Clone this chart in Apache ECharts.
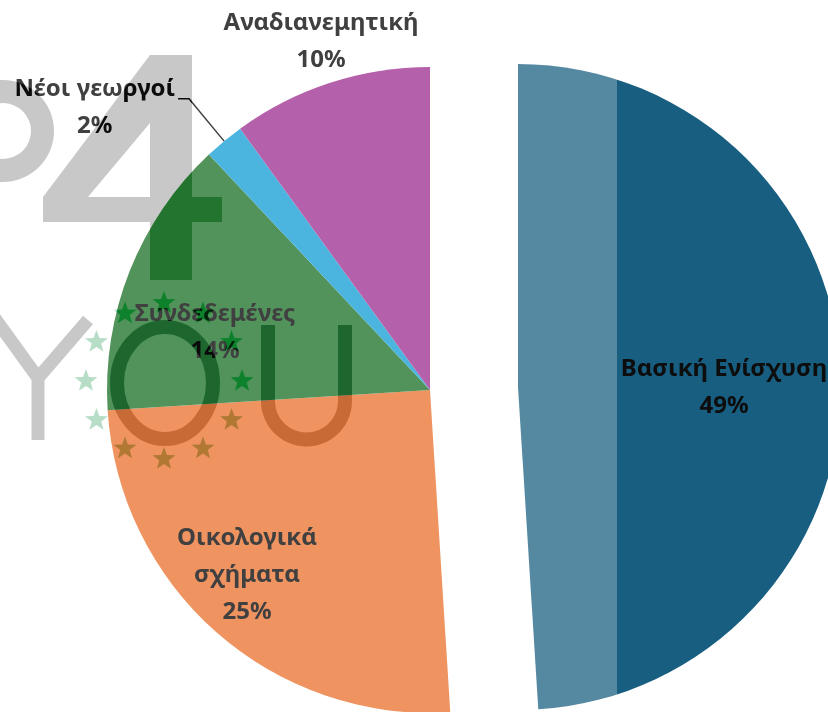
<!DOCTYPE html>
<html>
<head>
<meta charset="utf-8">
<script src="https://cdn.jsdelivr.net/npm/echarts@6/dist/echarts.min.js"></script>
</head>
<body style="margin:0;background:#fff">
<div id="main" style="width:828px;height:712px;"></div>
<script>
var categories = ['Βασική Ενίσχυση', 'Οικολογικά σχήματα', 'Συνδεδεμένες', 'Νέοι γεωργοί', 'Αναδιανεμητική'];
var values = [49, 25, 14, 2, 10];
var colors = ['#175e80', '#ef9461', '#52925b', '#4bb5e0', '#b560ab'];

// label block centres (Excel style placement)
var labelPos = { 0: [724, 388], 1: [247, 575], 2: [215, 333], 4: [321, 42] };

var chart = echarts.init(document.getElementById('main'));

// watermark (P4YOU logo) burned over the chart
var wmGray = '#c8c8c8';
var wm = [];
function star(cx, cy, R, r) {
    var pts = [];
    for (var i = 0; i < 10; i++) {
        var a = -Math.PI / 2 + i * Math.PI / 5;
        var rr = i % 2 ? r : R;
        pts.push([cx + rr * Math.cos(a), cy + rr * Math.sin(a)]);
    }
    return pts;
}
function burn(g) {
    g.z = 100;
    g.silent = true;
    g.style.blend = 'color-burn';
    wm.push(g);
}
// second pass for the parts lying on the orange slice, to brown them a bit
function tint(g, col) {
    var c = JSON.parse(JSON.stringify(g));
    c.z = 101;
    if (c.style.fill) c.style.fill = col;
    if (c.style.stroke) c.style.stroke = col;
    c.style.blend = 'multiply';
    wm.push(c);
}
burn({ type: 'ring', shape: { cx: 3, cy: 131, r: 51, r0: 28 }, style: { fill: wmGray } });
burn({
    type: 'polygon',
    shape: { points: [[150, 55], [192, 55], [192, 197], [222, 197], [222, 222], [192, 222], [192, 280], [150, 280],
        [150, 222], [43, 222], [43, 197], [88, 197], [150, 197], [150, 123], [88, 197], [43, 197]] },
    style: { fill: wmGray }
});
burn({
    type: 'polyline',
    shape: { points: [[-6, 317], [38, 378], [88, 320], [38, 378], [38, 440]] },
    style: { stroke: wmGray, lineWidth: 13, fill: null }
});
var letterO = { type: 'ellipse', shape: { cx: 165, cy: 383, rx: 48, ry: 56 }, style: { stroke: wmGray, lineWidth: 14, fill: null } };
burn(letterO);
tint(letterO, '#d9e3ff');
var uPts = [[268, 325], [268, 401]];
for (var k = 1; k < 30; k++) {
    var t = Math.PI - k * Math.PI / 30;
    uPts.push([306.5 + 38.5 * Math.cos(t), 401 + 38.5 * Math.sin(t)]);
}
uPts.push([345, 401], [345, 325]);
var letterU = { type: 'polyline', shape: { points: uPts }, style: { stroke: wmGray, lineWidth: 14, fill: null } };
burn(letterU);
tint(letterU, '#d9e3ff');
for (var s = 0; s < 12; s++) {
    var ang = -Math.PI / 2 + s * Math.PI / 6;
    var st = { type: 'polygon', shape: { points: star(164 + 78 * Math.cos(ang), 381 + 78 * Math.sin(ang), 12, 5) }, style: { fill: '#b7ddc6' } };
    burn(st);
    if (s >= 4 && s <= 7) tint(st, '#c2e8ff');
}
// pale band across the left of the exploded slice
wm.push({ type: 'rect', z: 102, silent: true, shape: { x: 500, y: 0, width: 117, height: 712 }, style: { fill: 'rgba(255,255,255,0.27)' } });

var hidden = { color: 'rgba(0,0,0,0)' };

// main pie: every slice but the exploded one
var mainData = categories.map(function (c, i) {
    var d = { name: c, value: values[i], itemStyle: { color: colors[i] } };
    if (i === 0) {
        d.itemStyle = hidden;
        d.label = { show: false };
    }
    if (i === 3) {
        d.label = { position: 'outside' };
        d.labelLine = { show: true, length: 55, length2: 11, lineStyle: { color: '#404040', width: 1.5 } };
    }
    if (i === 4) {
        d.label = { position: 'outside' };
    }
    return d;
});
// exploded copy: only the first slice is drawn
var explodedData = categories.map(function (c, i) {
    if (i === 0) return { name: c, value: values[i], itemStyle: { color: colors[i] }, label: { color: '#0d0d0d' } };
    return { name: c, value: values[i], itemStyle: hidden, label: { show: false } };
});

var labelOpt = {
    show: true,
    position: 'inside',
    fontFamily: 'Noto Sans',
    fontWeight: 'bold',
    fontSize: 24,
    lineHeight: 37,
    color: '#404040',
    formatter: function (p) {
        var n = p.dataIndex === 1 ? p.name.replace(' ', '\n') : p.name;
        return n + '\n' + p.percent + '%';
    }
};

function placeLabel(p) {
    var pos = labelPos[p.dataIndex];
    if (pos) {
        return { x: pos[0], y: pos[1], align: 'center', verticalAlign: 'middle' };
    }
    var pts = p.labelLinePoints;
    if (!pts) return {};
    var end = pts[pts.length - 1];
    return {
        x: end[0] - 3 - p.labelRect.width / 2,
        y: end[1] + 9,
        align: 'center',
        verticalAlign: 'middle',
        labelLinePoints: pts
    };
}

var base = {
    type: 'pie',
    radius: 323,
    startAngle: 90,
    clockwise: true,
    avoidLabelOverlap: false,
    silent: true,
    itemStyle: { borderWidth: 0 },
    emphasis: { disabled: true },
    label: labelOpt,
    labelLine: { show: false },
    labelLayout: placeLabel
};

var option = {
    animation: false,
    graphic: wm,
    series: [
        Object.assign({}, base, { center: [430, 390], data: mainData }),
        Object.assign({}, base, { center: [518, 387], data: explodedData })
    ]
};
chart.setOption(option);
</script>
</body>
</html>
